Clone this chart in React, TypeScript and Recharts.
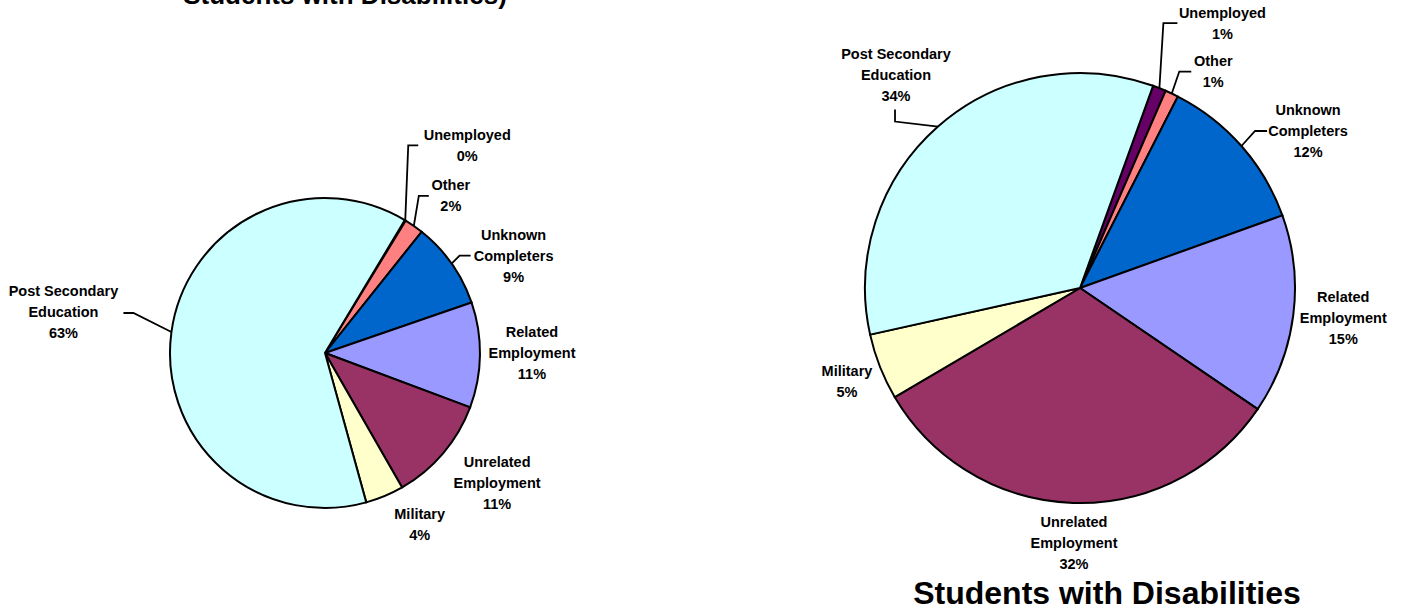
import { PieChart, Pie, Cell } from 'recharts'

const categories = [
  'Unemployed',
  'Other',
  'Unknown Completers',
  'Related Employment',
  'Unrelated Employment',
  'Military',
  'Post Secondary Education',
]
const allStudents = [0.1, 2, 9, 11, 11, 4, 62.9]
const withDisabilities = [1, 1, 12, 15, 32, 5, 34]
const colors = ['#660066', '#FF8080', '#0066CC', '#9999FF', '#993366', '#FFFFCC', '#CCFFFF']

const leftTitle = 'Students with Disabilities)'
const rightTitle = 'Students with Disabilities'

const FONT = "Arial, 'Liberation Sans', sans-serif"
const RAD = Math.PI / 180

// label placement: offset of the text block from the slice's arc midpoint,
// leader points are relative to the text block centre
type Place = { dx: number; dy: number; leader?: [number, number][] }

const leftPlaces: Place[] = [
  { dx: 62, dy: -75, leader: [[-59, 0], [-49, 0]] },
  { dx: 37, dy: -31, leader: [[-32, 1], [-22, 1]] },
  { dx: 62, dy: -8, leader: [[-54, 0], [-43, 0]] },
  { dx: 52, dy: -2 },
  { dx: 54, dy: 29 },
  { dx: 35, dy: 28 },
  { dx: -108, dy: -20, leader: [[70, 1], [60, 1]] },
]

const rightPlaces: Place[] = [
  { dx: 63, dy: -65, leader: [[-59, 0], [-45, 0]] },
  { dx: 41.5, dy: -22, leader: [[-34, 0], [-22, 0]] },
  { dx: 66.6, dy: -15, leader: [[-53, 0], [-41, 0]] },
  { dx: 50, dy: 3 },
  { dx: 1, dy: 40 },
  { dx: -33, dy: 14 },
  { dx: -42, dy: -52, leader: [[-1, 47], [-1, 35]] },
]

function splitName(name: string) {
  const i = name.lastIndexOf(' ')
  return i < 0 ? [name] : [name.slice(0, i), name.slice(i + 1)]
}

function makeLabel(places: Place[]) {
  return (props: any) => {
    const { cx, cy, midAngle, outerRadius, index, payload, value } = props
    const ax = cx + outerRadius * Math.cos(-midAngle * RAD)
    const ay = cy + outerRadius * Math.sin(-midAngle * RAD)
    const p = places[index]
    const tx = ax + p.dx
    const ty = ay + p.dy
    const lines = [...splitName(payload.name), `${Math.round(value)}%`]
    const pts = p.leader
      ? [[ax, ay], ...p.leader.map(([x, y]) => [tx + x, ty + y])]
      : null
    return (
      <g key={`lbl-${index}`}>
        {pts && (
          <polyline
            points={pts.map((q) => q.join(',')).join(' ')}
            fill="none"
            stroke="#000"
            strokeWidth={1.8}
          />
        )}
        <text
          textAnchor="middle"
          fontFamily={FONT}
          fontSize={14.5}
          fontWeight="bold"
          fill="#000"
        >
          {lines.map((l, i) => (
            <tspan key={i} x={tx} y={ty + (i - (lines.length - 1) / 2) * 21} dy="0.36em">
              {l}
            </tspan>
          ))}
        </text>
      </g>
    )
  }
}

const leftData = categories.map((name, i) => ({ name, value: allStudents[i] }))
const rightData = categories.map((name, i) => ({ name, value: withDisabilities[i] }))

export default function App() {
  return (
    <div style={{ position: 'relative', width: 1405, height: 612, background: '#fff' }}>
      <style>{'body{margin:0}'}</style>
      <PieChart width={1405} height={612} margin={{ top: 0, right: 0, bottom: 0, left: 0 }}>
        <Pie
          data={leftData}
          dataKey="value"
          nameKey="name"
          cx={325}
          cy={353}
          outerRadius={155}
          startAngle={59}
          endAngle={-301}
          stroke="#000"
          strokeWidth={2}
          label={makeLabel(leftPlaces)}
          labelLine={false}
          isAnimationActive={false}
        >
          {leftData.map((d, i) => (
            <Cell key={d.name} fill={colors[i]} />
          ))}
        </Pie>
        <Pie
          data={rightData}
          dataKey="value"
          nameKey="name"
          cx={1080}
          cy={288}
          outerRadius={215}
          startAngle={70.13}
          endAngle={-289.87}
          stroke="#000"
          strokeWidth={2}
          label={makeLabel(rightPlaces)}
          labelLine={false}
          isAnimationActive={false}
        >
          {rightData.map((d, i) => (
            <Cell key={d.name} fill={colors[i]} />
          ))}
        </Pie>
      </PieChart>
      <svg
        width={1405}
        height={612}
        style={{ position: 'absolute', left: 0, top: 0, pointerEvents: 'none' }}
      >
        <text x={345} y={4} textAnchor="middle" fontFamily={FONT} fontSize={26} fontWeight="bold">
          {leftTitle}
        </text>
        <text x={1107} y={604} textAnchor="middle" fontFamily={FONT} fontSize={32} fontWeight="bold">
          {rightTitle}
        </text>
      </svg>
    </div>
  )
}
